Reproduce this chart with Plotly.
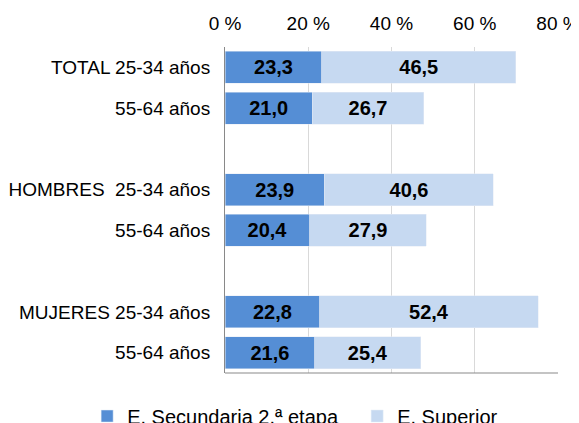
import plotly.graph_objects as go

# categories (ids) and the labels shown on the y axis, blanks separate groups
row_ids = ["T25", "T55", "gap1", "H25", "H55", "gap2", "M25", "M55"]
row_labels = ["TOTAL 25-34 años", "55-64 años", "", "HOMBRES  25-34 años", "55-64 años",
              "", "MUJERES 25-34 años", "55-64 años"]

bar_ids = ["T25", "T55", "H25", "H55", "M25", "M55"]
secundaria = [23.3, 21.0, 23.9, 20.4, 22.8, 21.6]
superior = [46.5, 26.7, 40.6, 27.9, 52.4, 25.4]

x_ticks = [0, 20, 40, 60, 80]
x_tick_text = ["0 %", "20 %", "40 %", "60 %", "80 %"]

label_font = dict(family="Liberation Sans", size=20, color="black", weight="bold")

fig = go.Figure()

fig.add_trace(go.Bar(y=bar_ids, x=secundaria, orientation="h", name="E. Secundaria 2.ª etapa",
                     marker_color="#558ED5", texttemplate="%{x:.1f}", textposition="inside",
                     insidetextanchor="middle", constraintext="none", textfont=label_font))
fig.add_trace(go.Bar(y=bar_ids, x=superior, orientation="h", name="E. Superior",
                     marker_color="#C6D9F1", texttemplate="%{x:.1f}", textposition="inside",
                     insidetextanchor="middle", constraintext="none", textfont=label_font))

# bottom border of the plot area
fig.add_shape(type="line", xref="paper", yref="paper", x0=0, x1=1, y0=0, y1=0,
              line=dict(color="#898989", width=1))

# the page body adds an 8px offset, so the margins are shifted to compensate
fig.update_layout(
    barmode="stack",
    bargap=0.21,
    width=579, height=423,
    margin=dict(l=217, r=29, t=39, b=58, autoexpand=False),
    paper_bgcolor="white", plot_bgcolor="white",
    separators=",.",
    font=dict(family="Liberation Sans", size=19, color="black"),
    showlegend=True,
    legend=dict(orientation="h", x=-0.414, xanchor="left",
                y=-0.132, yanchor="middle", font=dict(size=20),
                entrywidth=225, traceorder="normal", itemclick=False),
)

fig.update_xaxes(side="top", range=[0, 80], tickvals=x_ticks, ticktext=x_tick_text,
                 showgrid=True, gridcolor="#D9D9D9", gridwidth=1, zeroline=False,
                 showline=False, ticks="outside", ticklen=8, tickcolor="white")
fig.update_yaxes(categoryorder="array", categoryarray=row_ids, tickvals=row_ids,
                 ticktext=row_labels, autorange="reversed", showline=True,
                 linecolor="#898989", ticks="outside", ticklen=10, tickcolor="white",
                 showgrid=False)

fig.write_html("out.html")
